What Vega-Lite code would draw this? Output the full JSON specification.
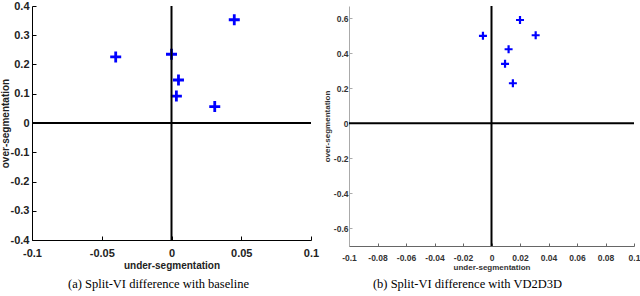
{
  "$schema": "https://vega.github.io/schema/vega-lite/v6.json",
  "padding": {"left": 0, "top": 0, "right": 2, "bottom": 0},
  "spacing": 4,
  "config": {
    "view": {"stroke": null},
    "axis": {"grid": false, "labelOverlap": false, "labelFlush": false, "labelBound": false, "labelFont": "Liberation Sans", "labelFontWeight": "bold", "titleFont": "Liberation Sans", "titleFontWeight": "bold"}
  },
  "datasets": {
    "a": [
      {"u": -0.04, "o": 0.226},
      {"u": 0.0, "o": 0.235},
      {"u": 0.045, "o": 0.353},
      {"u": 0.005, "o": 0.147},
      {"u": 0.0035, "o": 0.092},
      {"u": 0.031, "o": 0.056}
    ],
    "b": [
      {"u": -0.006, "o": 0.5},
      {"u": 0.02, "o": 0.59},
      {"u": 0.031, "o": 0.503},
      {"u": 0.012, "o": 0.423},
      {"u": 0.0095, "o": 0.34},
      {"u": 0.015, "o": 0.229}
    ]
  },
  "hconcat": [
    {
      "width": 279,
      "height": 234,
      "title": {"text": "(a)  Split-VI difference with baseline", "orient": "bottom", "font": "Liberation Serif", "fontSize": 12.5, "fontWeight": "normal", "color": "#000", "offset": 8, "dx": -13},
      "layer": [
        {
          "data": {"name": "a"},
          "mark": {"type": "point", "shape": "M-1,0L1,0M0,-1L0,1", "size": 121, "filled": false, "stroke": "#0000ff", "strokeWidth": 2.8, "opacity": 1},
          "encoding": {
            "x": {"field": "u", "type": "quantitative", "scale": {"domain": [-0.1, 0.1], "nice": false, "zero": false},
              "axis": {"values": [-0.1, -0.05, 0, 0.05, 0.1], "labelOverlap": false, "labelExpr": "datum.value < 0 ? '-' + format(-datum.value, '~g') : format(datum.value, '~g')", "labelFontSize": 11, "labelColor": "#222", "domainColor": "#000", "tickColor": "#000", "tickSize": -4, "labelPadding": 11, "title": "under-segmentation", "titleFontSize": 10, "titleColor": "#222", "titlePadding": 2}},
            "y": {"field": "o", "type": "quantitative", "scale": {"domain": [-0.4, 0.4], "nice": false, "zero": false},
              "axis": {"values": [-0.4, -0.3, -0.2, -0.1, 0, 0.1, 0.2, 0.3, 0.4], "labelOverlap": false, "labelExpr": "datum.value < 0 ? '-' + format(-datum.value, '~g') : format(datum.value, '~g')", "labelFontSize": 11, "labelColor": "#222", "domainColor": "#000", "tickColor": "#000", "tickSize": -4, "labelPadding": 7, "title": "over-segmentation", "titleFontSize": 10, "titleColor": "#222", "titlePadding": 0}}
          }
        },
        {
          "data": {"values": [{}]},
          "mark": {"type": "rule", "color": "#000", "strokeWidth": 2},
          "encoding": {"x": {"datum": 0, "type": "quantitative",
              "axis": {"values": [-0.1, -0.05, 0, 0.05, 0.1], "labelOverlap": false, "labelExpr": "datum.value < 0 ? '-' + format(-datum.value, '~g') : format(datum.value, '~g')", "labelFontSize": 11, "labelColor": "#222", "domainColor": "#000", "tickColor": "#000", "tickSize": -4, "labelPadding": 11, "title": "under-segmentation", "titleFontSize": 10, "titleColor": "#222", "titlePadding": 2}}}
        },
        {
          "data": {"values": [{}]},
          "mark": {"type": "rule", "color": "#000", "strokeWidth": 2},
          "encoding": {"y": {"datum": 0, "type": "quantitative",
              "axis": {"values": [-0.4, -0.3, -0.2, -0.1, 0, 0.1, 0.2, 0.3, 0.4], "labelOverlap": false, "labelExpr": "datum.value < 0 ? '-' + format(-datum.value, '~g') : format(datum.value, '~g')", "labelFontSize": 11, "labelColor": "#222", "domainColor": "#000", "tickColor": "#000", "tickSize": -4, "labelPadding": 7, "title": "over-segmentation", "titleFontSize": 10, "titleColor": "#222", "titlePadding": 0}}}
        }
      ]
    },
    {
      "width": 285,
      "height": 240,
      "title": {"text": "(b)  Split-VI difference with VD2D3D", "orient": "bottom", "font": "Liberation Serif", "fontSize": 12.5, "fontWeight": "normal", "color": "#000", "offset": 6, "dx": -24},
      "layer": [
        {
          "data": {"name": "b"},
          "mark": {"type": "point", "shape": "M-1,0L1,0M0,-1L0,1", "size": 64, "filled": false, "stroke": "#0000ff", "strokeWidth": 2.2, "opacity": 1},
          "encoding": {
            "x": {"field": "u", "type": "quantitative", "scale": {"domain": [-0.1, 0.1], "nice": false, "zero": false},
              "axis": {"values": [-0.1, -0.08, -0.06, -0.04, -0.02, 0, 0.02, 0.04, 0.06, 0.08, 0.1], "labelOverlap": false, "labelExpr": "datum.value < 0 ? '-' + format(-datum.value, '~g') : format(datum.value, '~g')", "labelFontSize": 8.5, "labelColor": "#333", "domainColor": "#666", "tickColor": "#666", "tickSize": -3, "labelPadding": 10, "title": "under-segmentation", "titleFontSize": 8, "titleColor": "#333", "titlePadding": 2}},
            "y": {"field": "o", "type": "quantitative", "scale": {"domain": [-0.7, 0.67], "nice": false, "zero": false},
              "axis": {"values": [-0.6, -0.4, -0.2, 0, 0.2, 0.4, 0.6], "labelOverlap": false, "labelExpr": "datum.value < 0 ? '-' + format(-datum.value, '~g') : format(datum.value, '~g')", "labelFontSize": 8.5, "labelColor": "#333", "domainColor": "#aaa", "tickColor": "#aaa", "tickSize": -3, "labelPadding": 4, "title": "over-segmentation", "titleFontSize": 8, "titleColor": "#333", "titlePadding": 2}}
          }
        },
        {
          "data": {"values": [{}]},
          "mark": {"type": "rule", "color": "#000", "strokeWidth": 2},
          "encoding": {"x": {"datum": 0, "type": "quantitative",
              "axis": {"values": [-0.1, -0.08, -0.06, -0.04, -0.02, 0, 0.02, 0.04, 0.06, 0.08, 0.1], "labelOverlap": false, "labelExpr": "datum.value < 0 ? '-' + format(-datum.value, '~g') : format(datum.value, '~g')", "labelFontSize": 8.5, "labelColor": "#333", "domainColor": "#666", "tickColor": "#666", "tickSize": -3, "labelPadding": 10, "title": "under-segmentation", "titleFontSize": 8, "titleColor": "#333", "titlePadding": 2}}}
        },
        {
          "data": {"values": [{}]},
          "mark": {"type": "rule", "color": "#000", "strokeWidth": 2},
          "encoding": {"y": {"datum": 0, "type": "quantitative",
              "axis": {"values": [-0.6, -0.4, -0.2, 0, 0.2, 0.4, 0.6], "labelOverlap": false, "labelExpr": "datum.value < 0 ? '-' + format(-datum.value, '~g') : format(datum.value, '~g')", "labelFontSize": 8.5, "labelColor": "#333", "domainColor": "#aaa", "tickColor": "#aaa", "tickSize": -3, "labelPadding": 4, "title": "over-segmentation", "titleFontSize": 8, "titleColor": "#333", "titlePadding": 2}}}
        }
      ]
    }
  ]
}
